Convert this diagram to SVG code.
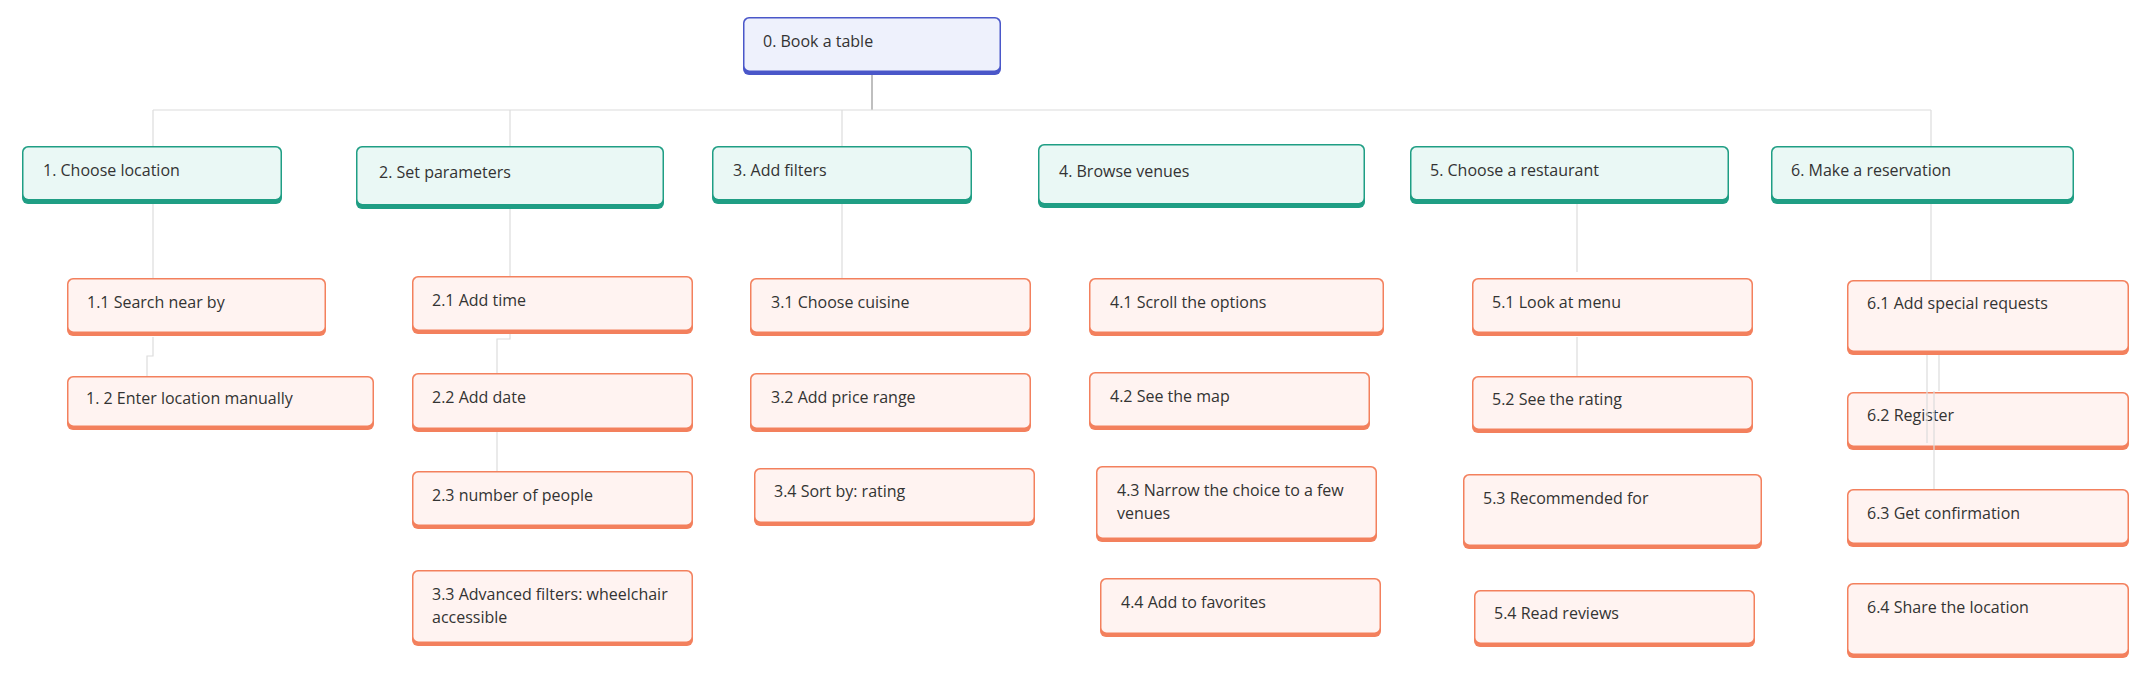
<svg xmlns="http://www.w3.org/2000/svg" width="2151" height="673" viewBox="0 0 2151 673">
<style>
text{font-family:"Open Sans","Noto Sans","Liberation Sans",sans-serif;font-size:16px;fill:#333333}
.c{fill:none;stroke:#dcdcdc;stroke-width:1.2}
.rootb{fill:#4a57c9}.rootf{fill:#eef1fc}
.tb{fill:#1f9e84}.tf{fill:#eaf8f5}
.ob{fill:#f3805d}.of{fill:#fff3f1}
</style>
<g id="connectors">
<path d="M872 75V110" fill="none" stroke="#aaaaaa" stroke-width="1.5"/>
<path class="c" d="M153 110H1931" stroke-width="1.6"/>
<path class="c" d="M153 110V146M510 110V146M842 110V146M1931 110V146"/>
<path class="c" d="M153 204V278M510 209V276M842 204V278M1577 204V272M1931 204V280"/>
<path class="c" d="M153 337V356H147V376"/>
<path class="c" d="M510 334V339H497V373M497 432V471"/>
<path class="c" d="M1577 337V376"/>
</g>
<g id="n0"><rect class="rootb" x="743" y="17" width="258" height="58" rx="6"/><rect class="rootf" x="744.5" y="18.5" width="255" height="52" rx="5"/><text x="763" y="47">0. Book a table</text></g>
<g id="n1"><rect class="tb" x="22" y="146" width="260" height="58" rx="6"/><rect class="tf" x="23.5" y="147.5" width="257" height="51.5" rx="5"/><text x="43" y="176">1. Choose location</text></g>
<g id="n2"><rect class="tb" x="356" y="146" width="308" height="63" rx="6"/><rect class="tf" x="357.5" y="147.5" width="305" height="56.5" rx="5"/><text x="379" y="178">2. Set parameters</text></g>
<g id="n3"><rect class="tb" x="712" y="146" width="260" height="58" rx="6"/><rect class="tf" x="713.5" y="147.5" width="257" height="51.5" rx="5"/><text x="733" y="176">3. Add filters</text></g>
<g id="n4"><rect class="tb" x="1038" y="144" width="327" height="64" rx="6"/><rect class="tf" x="1039.5" y="145.5" width="324" height="57.5" rx="5"/><text x="1059" y="177">4. Browse venues</text></g>
<g id="n5"><rect class="tb" x="1410" y="146" width="319" height="58" rx="6"/><rect class="tf" x="1411.5" y="147.5" width="316" height="51.5" rx="5"/><text x="1430" y="176">5. Choose a restaurant</text></g>
<g id="n6"><rect class="tb" x="1771" y="146" width="303" height="58" rx="6"/><rect class="tf" x="1772.5" y="147.5" width="300" height="51.5" rx="5"/><text x="1791" y="176">6. Make a reservation</text></g>
<g id="n1_1"><rect class="ob" x="67" y="278" width="259" height="58" rx="6"/><rect class="of" x="68.5" y="279.5" width="256" height="52" rx="5"/><text x="87" y="308">1.1 Search near by</text></g>
<g id="n1_2"><rect class="ob" x="67" y="376" width="307" height="54" rx="6"/><rect class="of" x="68.5" y="377.5" width="304" height="48" rx="5"/><text x="86" y="404">1. 2 Enter location manually</text></g>
<g id="n2_1"><rect class="ob" x="412" y="276" width="281" height="58" rx="6"/><rect class="of" x="413.5" y="277.5" width="278" height="52" rx="5"/><text x="432" y="306">2.1 Add time</text></g>
<g id="n2_2"><rect class="ob" x="412" y="373" width="281" height="59" rx="6"/><rect class="of" x="413.5" y="374.5" width="278" height="53" rx="5"/><text x="432" y="403">2.2 Add date</text></g>
<g id="n2_3"><rect class="ob" x="412" y="471" width="281" height="58" rx="6"/><rect class="of" x="413.5" y="472.5" width="278" height="52" rx="5"/><text x="432" y="501">2.3 number of people</text></g>
<g id="n3_3"><rect class="ob" x="412" y="570" width="281" height="76" rx="6"/><rect class="of" x="413.5" y="571.5" width="278" height="70" rx="5"/><text x="432" y="600">3.3 Advanced filters: wheelchair</text><text x="432" y="623">accessible</text></g>
<g id="n3_1"><rect class="ob" x="750" y="278" width="281" height="58" rx="6"/><rect class="of" x="751.5" y="279.5" width="278" height="52" rx="5"/><text x="771" y="308">3.1 Choose cuisine</text></g>
<g id="n3_2"><rect class="ob" x="750" y="373" width="281" height="59" rx="6"/><rect class="of" x="751.5" y="374.5" width="278" height="53" rx="5"/><text x="771" y="403">3.2 Add price range</text></g>
<g id="n3_4"><rect class="ob" x="754" y="468" width="281" height="58" rx="6"/><rect class="of" x="755.5" y="469.5" width="278" height="52" rx="5"/><text x="774" y="497">3.4 Sort by: rating</text></g>
<g id="n4_1"><rect class="ob" x="1089" y="278" width="295" height="58" rx="6"/><rect class="of" x="1090.5" y="279.5" width="292" height="52" rx="5"/><text x="1110" y="308">4.1 Scroll the options</text></g>
<g id="n4_2"><rect class="ob" x="1089" y="372" width="281" height="58" rx="6"/><rect class="of" x="1090.5" y="373.5" width="278" height="52" rx="5"/><text x="1110" y="402">4.2 See the map</text></g>
<g id="n4_3"><rect class="ob" x="1096" y="466" width="281" height="76" rx="6"/><rect class="of" x="1097.5" y="467.5" width="278" height="70" rx="5"/><text x="1117" y="496">4.3 Narrow the choice to a few</text><text x="1117" y="519">venues</text></g>
<g id="n4_4"><rect class="ob" x="1100" y="578" width="281" height="59" rx="6"/><rect class="of" x="1101.5" y="579.5" width="278" height="53" rx="5"/><text x="1121" y="608">4.4 Add to favorites</text></g>
<g id="n5_1"><rect class="ob" x="1472" y="278" width="281" height="58" rx="6"/><rect class="of" x="1473.5" y="279.5" width="278" height="52" rx="5"/><text x="1492" y="308">5.1 Look at menu</text></g>
<g id="n5_2"><rect class="ob" x="1472" y="376" width="281" height="57" rx="6"/><rect class="of" x="1473.5" y="377.5" width="278" height="51" rx="5"/><text x="1492" y="405">5.2 See the rating</text></g>
<g id="n5_3"><rect class="ob" x="1463" y="474" width="299" height="75" rx="6"/><rect class="of" x="1464.5" y="475.5" width="296" height="69" rx="5"/><text x="1483" y="504">5.3 Recommended for</text></g>
<g id="n5_4"><rect class="ob" x="1474" y="590" width="281" height="57" rx="6"/><rect class="of" x="1475.5" y="591.5" width="278" height="51" rx="5"/><text x="1494" y="619">5.4 Read reviews</text></g>
<g id="n6_1"><rect class="ob" x="1847" y="280" width="282" height="75" rx="6"/><rect class="of" x="1848.5" y="281.5" width="279" height="69" rx="5"/><text x="1867" y="309">6.1 Add special requests</text></g>
<g id="n6_2"><rect class="ob" x="1847" y="392" width="282" height="58" rx="6"/><rect class="of" x="1848.5" y="393.5" width="279" height="52" rx="5"/><text x="1867" y="421">6.2 Register</text></g>
<g id="n6_3"><rect class="ob" x="1847" y="489" width="282" height="58" rx="6"/><rect class="of" x="1848.5" y="490.5" width="279" height="52" rx="5"/><text x="1867" y="519">6.3 Get confirmation</text></g>
<g id="n6_4"><rect class="ob" x="1847" y="583" width="282" height="75" rx="6"/><rect class="of" x="1848.5" y="584.5" width="279" height="69" rx="5"/><text x="1867" y="613">6.4 Share the location</text></g>
<g id="connectors-over">
<path class="c" d="M1927 355V443M1939 355V391M1934 391V489"/>
</g>
</svg>
